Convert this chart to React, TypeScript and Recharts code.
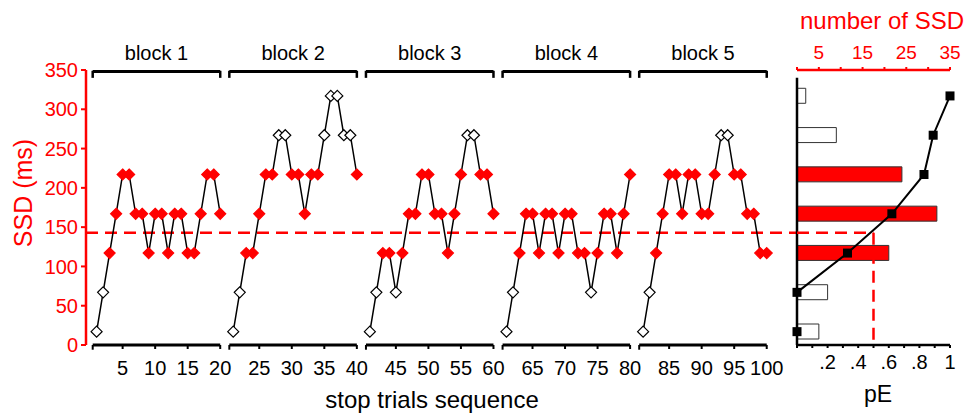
import React from 'react';
import { LineChart, ComposedChart, Line, Bar, Cell, XAxis, YAxis, ReferenceLine } from 'recharts';

const RED = '#ff0000';

// SSD (ms) of each stop trial, 20 trials per block
const block1 = [17, 67, 117, 167, 217, 217, 167, 167, 117, 167, 167, 117, 167, 167, 117, 117, 167, 217, 217, 167];
const block2 = [17, 67, 117, 117, 167, 217, 217, 267, 267, 217, 217, 167, 217, 217, 267, 317, 317, 267, 267, 217];
const block3 = [17, 67, 117, 117, 67, 117, 167, 167, 217, 217, 167, 167, 117, 167, 217, 267, 267, 217, 217, 167];
const block4 = [17, 67, 117, 167, 167, 117, 167, 167, 117, 167, 167, 117, 117, 67, 117, 167, 167, 117, 167, 217];
const block5 = [17, 67, 117, 167, 217, 217, 167, 217, 217, 167, 167, 217, 267, 267, 217, 217, 167, 167, 117, 117];
const blocks = [block1, block2, block3, block4, block5];
const blockLabels = ['block 1', 'block 2', 'block 3', 'block 4', 'block 5'];

// histogram / pE panel
const ssdLevels = [17, 67, 117, 167, 217, 267, 317];
const ssdCounts = [5, 7, 21, 32, 24, 9, 2];
const pEValues = [0, 0, 0.33, 0.62, 0.83, 0.89, 1];

const meanSSD = 143;
const pEHalf = 0.5;

const ssdTicks = [0, 50, 100, 150, 200, 250, 300, 350];
const trialTicks = [5, 10, 15, 20, 25, 30, 35, 40, 45, 50, 55, 60, 65, 70, 75, 80, 85, 90, 95, 100];
const countTicks = [0, 5, 10, 15, 20, 25, 30, 35];
const countLabels = [5, 15, 25, 35];
const pETicks = [0, 0.1, 0.2, 0.3, 0.4, 0.5, 0.6, 0.7, 0.8, 0.9, 1];
const pELabels = [0.2, 0.4, 0.6, 0.8, 1];
const levelTicks = [42, 92, 142, 192, 242, 292];

// one empty slot between blocks on the trial axis
const SLOT = 21;
const toPos = (trial: number) => trial + Math.floor((trial - 1) / 20);
const fromPos = (pos: number) => pos - Math.floor(pos / SLOT);

const blockRows = blocks.map((vals, k) => vals.map((ssd, i) => ({ pos: k * SLOT + i + 1, ssd })));
const histRows = ssdLevels.map((ssd, i) => ({ ssd, count: ssdCounts[i], pe: pEValues[i] }));

const isMid = (ssd: number) => ssd > 100 && ssd < 250;

const renderDiamond = (props: any) => {
  const { cx, cy, payload, index } = props;
  if (cx == null || cy == null) return <g key={index} />;
  const r = 5.5;
  const filled = isMid(payload.ssd);
  return (
    <path
      key={index}
      d={`M${cx},${cy - r}L${cx + r},${cy}L${cx},${cy + r}L${cx - r},${cy}Z`}
      fill={filled ? RED : '#fff'}
      stroke={filled ? RED : '#000'}
      strokeWidth={1.2}
    />
  );
};

const renderSquare = (props: any) => {
  const { cx, cy, index } = props;
  if (cx == null || cy == null) return <g key={index} />;
  return <rect key={index} x={cx - 4.5} y={cy - 4.5} width={9} height={9} fill="#000" />;
};

const dash = { stroke: RED, strokeWidth: 2.5, strokeDasharray: '12 7' };

export default function App() {
  return (
    <div
      style={{
        position: 'absolute',
        left: 0,
        top: 0,
        width: 970,
        height: 415,
        background: '#fff',
        fontFamily: '"Liberation Sans", Arial, sans-serif',
      }}
    >
      <LineChart
        width={800}
        height={415}
        margin={{ top: 70, right: 4, bottom: 0, left: 0 }}
        style={{ position: 'absolute', left: 0, top: 0 }}
      >
        <XAxis
          type="number"
          dataKey="pos"
          domain={[-0.63, 108.5]}
          allowDataOverflow
          ticks={trialTicks.map(toPos)}
          interval={0}
          tickFormatter={(v: number) => String(fromPos(v))}
          axisLine={false}
          tickLine={{ stroke: '#000', strokeWidth: 2 }}
          tickSize={4}
          tickMargin={12}
          tick={{ fill: '#000', fontSize: 20 }}
          height={70}
          label={(p: any) => (
            <text x={p.viewBox.x + 346} y={p.viewBox.y + 63} textAnchor="middle" fontSize={24} fill="#000">
              stop trials sequence
            </text>
          )}
        />
        <YAxis
          type="number"
          domain={[0, 350]}
          ticks={ssdTicks}
          interval={0}
          width={86}
          axisLine={{ stroke: RED, strokeWidth: 2.5 }}
          tickLine={{ stroke: RED, strokeWidth: 2 }}
          tickSize={5}
          tickMargin={3}
          tick={{ fill: RED, fontSize: 20 }}
          label={(p: any) => (
            <text
              x={p.viewBox.x + 23}
              y={193}
              transform={`rotate(-90 ${p.viewBox.x + 23} 193)`}
              textAnchor="middle"
              dominantBaseline="central"
              fontSize={25}
              fill={RED}
            >
              SSD (ms)
            </text>
          )}
        />

        <ReferenceLine y={meanSSD} {...dash} />

        {blocks.map((_, k) => {
          const a = k * SLOT + 0.4;
          const b = k * SLOT + 20;
          return (
            <React.Fragment key={k}>
              <ReferenceLine
                segment={[{ x: a, y: 348 }, { x: b, y: 348 }]}
                stroke="#000"
                strokeWidth={3}
                label={{ value: blockLabels[k], position: 'top', offset: 12, fontSize: 20, fill: '#000' }}
              />
              <ReferenceLine segment={[{ x: a, y: 349 }, { x: a, y: 340 }]} stroke="#000" strokeWidth={2.5} />
              <ReferenceLine segment={[{ x: b, y: 349 }, { x: b, y: 340 }]} stroke="#000" strokeWidth={2.5} />
              <ReferenceLine segment={[{ x: a, y: 0 }, { x: b, y: 0 }]} stroke="#000" strokeWidth={3} ifOverflow="visible" />
              <ReferenceLine segment={[{ x: a, y: 0 }, { x: a, y: -6 }]} stroke="#000" strokeWidth={2} ifOverflow="visible" />
            </React.Fragment>
          );
        })}

        {blockRows.map((rows, k) => (
          <Line
            key={k}
            data={rows}
            dataKey="ssd"
            stroke="#000"
            strokeWidth={1.5}
            dot={renderDiamond}
            activeDot={false}
            isAnimationActive={false}
          />
        ))}
      </LineChart>

      <ComposedChart
        layout="vertical"
        width={200}
        height={415}
        data={histRows}
        margin={{ top: 0, right: 20, bottom: 0, left: 27 }}
        style={{ position: 'absolute', left: 770, top: 0 }}
      >
        <XAxis
          xAxisId="count"
          orientation="top"
          type="number"
          domain={[0, 35]}
          ticks={countTicks}
          interval={0}
          tickFormatter={(v: number) => (countLabels.includes(v) ? String(v) : '')}
          axisLine={{ stroke: RED, strokeWidth: 2.5 }}
          tickLine={{ stroke: RED, strokeWidth: 2 }}
          tickSize={3}
          tickMargin={8}
          tick={{ fill: RED, fontSize: 19 }}
          height={70}
          label={(p: any) => (
            <text x={p.viewBox.x + 85} y={29} textAnchor="middle" fontSize={24} fill={RED}>
              number of SSD
            </text>
          )}
        />
        <XAxis
          xAxisId="pe"
          orientation="bottom"
          type="number"
          domain={[0, 1]}
          ticks={pETicks}
          interval={0}
          tickFormatter={(v: number) => (pELabels.includes(v) ? (v === 1 ? '1' : String(v).slice(1)) : '')}
          axisLine={{ stroke: '#000', strokeWidth: 2.5 }}
          tickLine={{ stroke: '#000', strokeWidth: 2 }}
          tickSize={3}
          tickMargin={7}
          tick={{ fill: '#000', fontSize: 20 }}
          height={70}
          label={(p: any) => (
            <text x={p.viewBox.x + 81} y={p.viewBox.y + 57} textAnchor="middle" fontSize={23} fill="#000">
              pE
            </text>
          )}
        />
        <YAxis
          type="number"
          dataKey="ssd"
          domain={[0, 350]}
          reversed
          width={0}
          ticks={levelTicks}
          interval={0}
          tickFormatter={() => ''}
          axisLine={false}
          tickLine={{ stroke: '#000', strokeWidth: 2 }}
          tickSize={3}
        />

        <ReferenceLine xAxisId="pe" segment={[{ x: 0, y: 0 }, { x: 0, y: 340 }]} stroke="#000" strokeWidth={2.5} />

        <Bar xAxisId="count" dataKey="count" barSize={15} stroke="#333" strokeWidth={1} isAnimationActive={false}>
          {histRows.map((r, i) => (
            <Cell key={i} fill={isMid(r.ssd) ? RED : '#fff'} />
          ))}
        </Bar>

        <ReferenceLine xAxisId="pe" segment={[{ x: 0, y: meanSSD }, { x: pEHalf, y: meanSSD }]} {...dash} />
        <ReferenceLine xAxisId="pe" segment={[{ x: pEHalf, y: meanSSD }, { x: pEHalf, y: 0 }]} {...dash} />

        <Line
          xAxisId="pe"
          dataKey="pe"
          stroke="#000"
          strokeWidth={2}
          dot={renderSquare}
          activeDot={false}
          isAnimationActive={false}
        />
      </ComposedChart>
    </div>
  );
}
